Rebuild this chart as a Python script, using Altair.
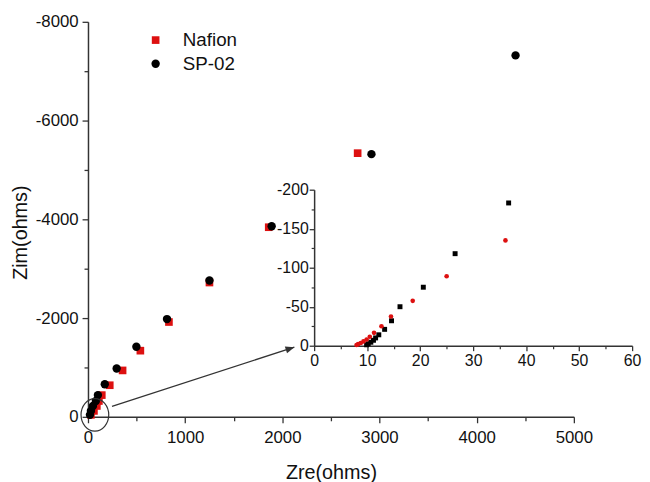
import altair as alt
import pandas as pd

# ---------------- data ----------------
nafion_zre = [2775, 1860, 1250, 833, 539, 356, 224, 142, 112, 91, 61, 30]
nafion_zim = [-5340, -3840, -2720, -1920, -1340, -940, -640, -440, -320, -220, -120, -40]
sp02_zre = [4400, 2917, 1890, 1250, 813, 498, 295, 173, 102, 81, 51, 30, 20]
sp02_zim = [-7320, -5320, -3860, -2760, -1980, -1420, -980, -660, -440, -320, -220, -120, -40]

# inset (zoom near the origin)
inset_sq_zre = [36.7, 26.6, 20.6, 16.2, 14.6, 13.3, 12.2, 11.6, 11.2, 10.7, 10.2, 9.9]
inset_sq_zim = [-183, -118, -75, -50, -32, -21, -14, -10, -7, -4.5, -2.5, -1.2]
inset_ci_zre = [36.1, 25.0, 18.6, 14.5, 12.7, 11.3, 10.5, 9.9, 9.3, 8.8, 8.3, 8.0]
inset_ci_zim = [-135, -89, -57.5, -37.5, -25, -16.5, -11.5, -8, -5.5, -3.5, -2, -1]

# annotation: ellipse around origin and arrow to the inset (data coordinates)
ellipse_zre = [71]
ellipse_zim = [-40]
arrow_from = [247, -214]
arrow_to = [2124, -1410]

main_x_major = list(range(0, 5001, 1000))
main_x_minor = list(range(500, 5000, 1000))
main_y_major = list(range(0, -8001, -2000))
main_y_minor = list(range(-1000, -8000, -2000))
inset_x_major = list(range(0, 61, 10))
inset_x_minor = list(range(5, 60, 10))
inset_y_major = [0, -50, -100, -150, -200]
inset_y_minor = [-25, -75, -125, -175]

RED = "#dd1010"
BLACK = "#000000"
AX = "#333333"
FONT = "Liberation Sans"

W, H = 492, 400

main_df = pd.DataFrame({
    "Zre": nafion_zre + sp02_zre,
    "Zim": nafion_zim + sp02_zim,
    "Sample": ["Nafion"] * len(nafion_zre) + ["SP-02"] * len(sp02_zre),
})
ell_df = pd.DataFrame({"Zre": ellipse_zre, "Zim": ellipse_zim})
arr_df = pd.DataFrame({"Zre": [arrow_from[0]], "Zim": [arrow_from[1]],
                       "Zre2": [arrow_to[0]], "Zim2": [arrow_to[1]]})
head_df = pd.DataFrame({"Zre": [arrow_to[0]], "Zim": [arrow_to[1]]})
isq_df = pd.DataFrame({"iZre": inset_sq_zre, "iZim": inset_sq_zim})
ici_df = pd.DataFrame({"iZre": inset_ci_zre, "iZim": inset_ci_zim})

xs = alt.Scale(domain=[0, 5000], nice=False, zero=False)
ys = alt.Scale(domain=[-8000, 0], nice=False, zero=False, reverse=True)
ixs = alt.Scale(domain=[0, 60], range=[229, 551], nice=False, zero=False)
iys = alt.Scale(domain=[-200, 0], range=[170, 328], nice=False, zero=False)

lab = dict(labelFont=FONT, labelColor="#111111", labelFlush=False, labelOverlap=False,
           domainColor=AX, domainWidth=1.5, tickColor=AX, tickWidth=1.3, grid=False)

x_major = alt.Axis(orient="bottom", values=main_x_major, labelExpr="'' + datum.value",
                   tickSize=6, labelPadding=7, labelFontSize=17,
                   title="Zre(ohms)", titleFont=FONT, titleFontSize=20, titleFontWeight="normal",
                   titleColor="#111111", titleX=W / 2, titleY=62, titleBaseline="alphabetic",
                   titleAlign="center", **lab)
y_major = alt.Axis(orient="left", values=main_y_major, labelExpr="'' + datum.value",
                   tickSize=6, labelPadding=4, labelFontSize=17,
                   title="Zim(ohms)", titleFont=FONT, titleFontSize=20, titleFontWeight="normal",
                   titleColor="#111111", titleAngle=270, titleX=-62, titleY=213,
                   titleBaseline="alphabetic", titleAlign="center", **lab)
x_minor = alt.Axis(orient="bottom", values=main_x_minor, labels=False, domain=False,
                   tickSize=4, tickColor=AX, tickWidth=1.3, title=None, grid=False)
y_minor = alt.Axis(orient="left", values=main_y_minor, labels=False, domain=False,
                   tickSize=4, tickColor=AX, tickWidth=1.3, title=None, grid=False)

ix_major = alt.Axis(orient="bottom", offset=-72, values=inset_x_major, labelExpr="'' + datum.value",
                    tickSize=5, labelPadding=2, labelFontSize=16, title=None, **lab)
iy_major = alt.Axis(orient="left", offset=-229, values=inset_y_major, labelExpr="'' + datum.value",
                    tickSize=5, labelPadding=1, labelFontSize=16, title=None, **lab)
ix_minor = alt.Axis(orient="bottom", offset=-72, values=inset_x_minor, labels=False, domain=False,
                    tickSize=3, tickColor=AX, tickWidth=1.2, title=None, grid=False)
iy_minor = alt.Axis(orient="left", offset=-229, values=inset_y_minor, labels=False, domain=False,
                    tickSize=3, tickColor=AX, tickWidth=1.2, title=None, grid=False)

leg = alt.Legend(title=None, orient="none", legendX=59, legendY=9,
                 labelFont=FONT, labelFontSize=19, labelColor="#111111",
                 symbolSize=40, labelOffset=18, rowPadding=4, padding=0)

main_pts = alt.Chart(main_df).mark_point(filled=True, opacity=1).encode(
    x=alt.X("Zre:Q", scale=xs, axis=x_major),
    y=alt.Y("Zim:Q", scale=ys, axis=y_major),
    color=alt.Color("Sample:N", scale=alt.Scale(domain=["Nafion", "SP-02"], range=[RED, BLACK]), legend=leg),
    shape=alt.Shape("Sample:N", scale=alt.Scale(domain=["Nafion", "SP-02"], range=["square", "circle"]), legend=leg),
    size=alt.Size("Sample:N", scale=alt.Scale(domain=["Nafion", "SP-02"], range=[60, 72]), legend=None),
    order=alt.Order("Sample:N", sort="ascending"),
)

ellipse = alt.Chart(ell_df).mark_point(
    shape="M -0.85 0 A 0.85 1 0 1 0 0.85 0 A 0.85 1 0 1 0 -0.85 0 Z",
    filled=False, size=1089, stroke=AX, strokeWidth=1.2, opacity=1,
).encode(x=alt.X("Zre:Q", scale=xs, axis=x_minor), y=alt.Y("Zim:Q", scale=ys, axis=y_minor))

arrow = alt.Chart(arr_df).mark_rule(color=AX, strokeWidth=1.3).encode(
    x=alt.X("Zre:Q", scale=xs, axis=None), y=alt.Y("Zim:Q", scale=ys, axis=None),
    x2="Zre2:Q", y2="Zim2:Q",
)

head = alt.Chart(head_df).mark_point(
    shape="M 0 0 L -1 -0.4 L -1 0.4 Z", filled=True, size=324, color=AX, opacity=1, angle=342,
).encode(x=alt.X("Zre:Q", scale=xs, axis=None), y=alt.Y("Zim:Q", scale=ys, axis=None))

inset_sq = alt.Chart(isq_df).mark_point(shape="square", filled=True, size=25, color=BLACK, opacity=1).encode(
    x=alt.X("iZre:Q", scale=ixs, axis=ix_major), y=alt.Y("iZim:Q", scale=iys, axis=iy_major))

inset_ci = alt.Chart(ici_df).mark_point(shape="circle", filled=True, size=22, color=RED, opacity=1).encode(
    x=alt.X("iZre:Q", scale=ixs, axis=ix_minor), y=alt.Y("iZim:Q", scale=iys, axis=iy_minor))

chart = alt.layer(main_pts, ellipse, arrow, head, inset_sq, inset_ci).resolve_scale(
    x="independent", y="independent", color="independent", shape="independent", size="independent"
).properties(
    width=W, height=H,
    autosize=alt.AutoSizeParams(type="none"),
    padding={"left": 81, "top": 11, "right": 69, "bottom": 63},
).configure_view(stroke=None)

chart.save("out.html", embed_options={"renderer": "svg", "actions": False})
